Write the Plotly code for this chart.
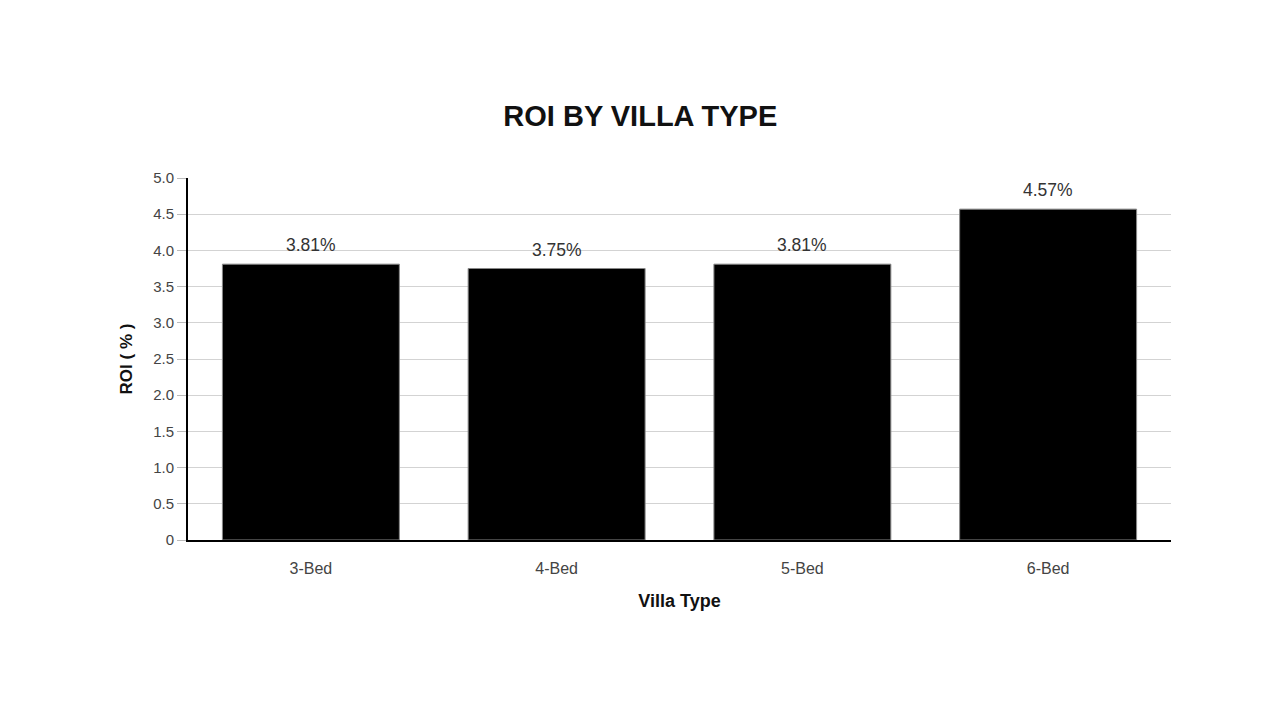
import plotly.graph_objects as go

villa_types = ["3-Bed", "4-Bed", "5-Bed", "6-Bed"]
roi = [3.81, 3.75, 3.81, 4.57]
y_ticks = [0, 0.5, 1.0, 1.5, 2.0, 2.5, 3.0, 3.5, 4.0, 4.5, 5.0]
y_tick_labels = ["0", "0.5", "1.0", "1.5", "2.0", "2.5", "3.0", "3.5", "4.0", "4.5", "5.0"]

fig = go.Figure()
fig.add_trace(go.Bar(
    x=villa_types,
    y=roi,
    marker=dict(color="black", line=dict(color="#888888", width=1)),
))

# value labels sit a bit higher than plotly's default outside text
for cat, val in zip(villa_types, roi):
    fig.add_annotation(
        x=cat, y=val, text=f"{val:.2f}%", showarrow=False,
        yanchor="bottom", yshift=7,
        font=dict(size=17.5, color="#333333", family="Liberation Sans"),
    )

fig.update_layout(
    width=1280,
    height=720,
    paper_bgcolor="white",
    plot_bgcolor="white",
    font=dict(family="Liberation Sans, Arial, sans-serif", color="#444444", size=14),
    title=dict(text="<b>ROI BY VILLA TYPE</b>", x=0.494, xanchor="center", y=0.85, yanchor="middle",
               font=dict(size=29, color="#111111")),
    margin=dict(l=180, r=117, t=170, b=188),
    bargap=0.28,
    showlegend=False,
)

fig.update_xaxes(
    title=dict(text="<b>Villa Type</b>", font=dict(size=18, color="#111111"), standoff=18),
    showline=True, linecolor="black", linewidth=2,
    ticks="outside", ticklen=13, tickcolor="rgba(0,0,0,0)",
    tickfont=dict(size=16, color="#444444"),
)
fig.update_yaxes(
    title=dict(text="<b>ROI ( % )</b>", font=dict(size=17, color="#111111"), standoff=16),
    range=[0, 5], tickvals=y_ticks, ticktext=y_tick_labels,
    showline=True, linecolor="black", linewidth=2,
    showgrid=True, gridcolor="#d3d3d3", gridwidth=1,
    ticks="outside", ticklen=9, tickcolor="#bbbbbb",
    tickfont=dict(size=15, color="#444444"),
    zeroline=False,
)

fig.write_html("out.html")
